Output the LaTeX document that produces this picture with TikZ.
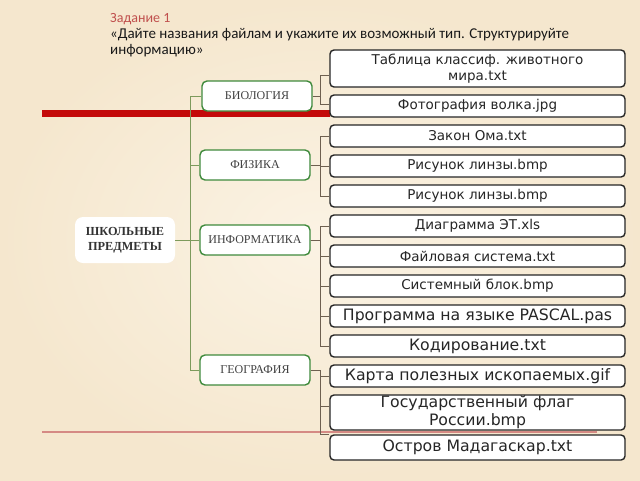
\documentclass[tikz,border=0pt]{standalone}
\usepackage{fontspec}
\setmainfont{Liberation Serif}
\newfontfamily\leaffont{DejaVu Sans}
\newfontfamily\titlefont{Carlito}
\usetikzlibrary{calc}
\definecolor{bgout}{HTML}{F5E7CE}
\definecolor{bgin}{HTML}{FBF3E4}
\definecolor{catgreen}{HTML}{3F8A3C}
\definecolor{trunkgreen}{HTML}{7D9A5C}
\definecolor{brline}{HTML}{6E6050}
\definecolor{redbar}{HTML}{C40A0A}
\definecolor{redthin}{HTML}{D58A84}
\definecolor{titlered}{HTML}{C0504D}
\begin{document}
\begin{tikzpicture}[x=1pt,y=-1pt,
  leaf/.style={draw=black!85,line width=1.4pt,rounded corners=4pt,fill=white,
    minimum width=295pt,inner sep=0pt,align=center,font=\leaffont\fontsize{13.5}{16}\selectfont,text=black!85},
  bigleaf/.style={leaf,font=\leaffont\fontsize{15.7}{18}\selectfont},
  cat/.style={draw=catgreen,line width=1.4pt,rounded corners=5pt,fill=white,
    minimum width=110pt,minimum height=30pt,inner sep=0pt,font=\fontsize{12}{13}\selectfont,text=black!75},
  rootbox/.style={fill=white,rounded corners=8pt,minimum width=100pt,minimum height=46pt,
    align=center,font=\bfseries\fontsize{12.3}{15}\selectfont,text=black!80},
  tline/.style={draw=trunkgreen,line width=1pt},
  bline/.style={draw=brline,line width=1pt}]
\useasboundingbox (0,0) rectangle (640,480);
\shade[inner color=bgin,outer color=bgout] (0,0) rectangle (640,480);
% title
\node[anchor=base west,inner sep=0pt,font=\titlefont\fontsize{14}{16}\selectfont,text=titlered] (tz) at (110,22) {Задание 1};
\node[anchor=base west,inner sep=0pt,font=\titlefont\fontsize{15}{16}\selectfont,text=black!90] (tq) at (110,38)
  {«Дайте названия файлам и укажите их возможный тип. Структурируйте};
\node[anchor=base west,inner sep=0pt,font=\titlefont\fontsize{15}{16}\selectfont,text=black!90] (tq2) at (110,54)
  {информацию»};
% decorative lines
\fill[redbar] (42,110) rectangle (330,117);
\draw[redthin,line width=1.6pt] (42,432) -- (597,432);
% coordinates
\coordinate (tr) at (190,0);
\coordinate (xb) at (320,0);
% leaves
\node[leaf,minimum height=37pt] (l1) at (477.5,68.5) {Таблица классиф. животного\\мира.txt};
\node[leaf,minimum height=22pt] (l2) at (477.5,106) {Фотография волка.jpg};
\node[leaf,minimum height=22pt] (l3) at (477.5,136) {Закон Ома.txt};
\node[leaf,minimum height=22pt] (l4) at (477.5,166) {Рисунок линзы.bmp};
\node[leaf,minimum height=22pt] (l5) at (477.5,196) {Рисунок линзы.bmp};
\node[leaf,minimum height=22pt] (l6) at (477.5,226) {Диаграмма ЭТ.xls};
\node[leaf,minimum height=22pt] (l7) at (477.5,256) {Файловая система.txt};
\node[leaf,minimum height=22pt] (l8) at (477.5,286) {Системный блок.bmp};
\node[bigleaf,minimum height=22pt] (l9) at (477.5,316) {Программа на языке PASCAL.pas};
\node[bigleaf,minimum height=22pt] (l10) at (477.5,346) {Кодирование.txt};
\node[bigleaf,minimum height=22pt] (l11) at (477.5,376) {Карта полезных ископаемых.gif};
\node[bigleaf,minimum height=35pt] (l12) at (477.5,412.5) {Государственный флаг\\России.bmp};
\node[bigleaf,minimum height=25pt] (l13) at (477.5,447.5) {Остров Мадагаскар.txt};
% categories
\node[cat] (bio) at (257,96) {БИОЛОГИЯ};
\node[cat] (fiz) at (255,165) {ФИЗИКА};
\node[cat] (inf) at (255,240) {ИНФОРМАТИКА};
\node[cat] (geo) at (255,370) {ГЕОГРАФИЯ};
\node[rootbox] (root) at (125,240) {ШКОЛЬНЫЕ\\ПРЕДМЕТЫ};
% trunk connectors
\draw[tline] (bio.west) -- (bio.west -| tr) -- (geo.west -| tr) -- (geo.west);
\draw[tline] (fiz.west -| tr) -- (fiz.west);
\draw[tline] (inf.west -| tr) -- (inf.west);
\draw[tline] (root.east) -- (root.east -| tr);
% leaf connectors
\draw[bline] (bio.east) -- (bio.east -| xb) |- ($(l1.west)+(0,7)$);
\draw[bline] (bio.east -| xb) |- ($(l2.west)+(0,-2)$);
\foreach \l in {l3,l4,l5}{\draw[bline] (fiz.east) -- (fiz.east -| xb) |- (\l.west);}
\foreach \l in {l6,l7,l8,l9,l10}{\draw[bline] (inf.east) -- (inf.east -| xb) |- (\l.west);}
\draw[bline] (geo.east) -- (geo.east -| xb) |- (l11.west);
\draw[bline] (geo.east -| xb) |- ($(l12.west)+(0,-6)$);
\draw[bline] (geo.east -| xb) |- (l13.north west);
\end{tikzpicture}
\end{document}
